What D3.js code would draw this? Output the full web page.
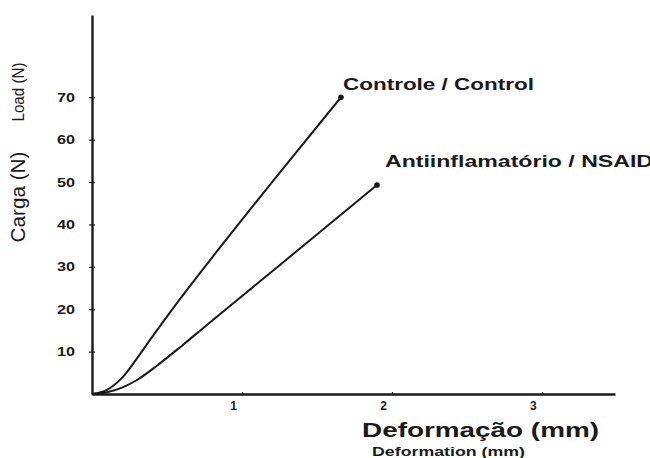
<!DOCTYPE html>
<html>
<head>
<meta charset="utf-8">
<script src="https://cdn.jsdelivr.net/npm/d3@7"></script>
<style>
  html, body { margin: 0; padding: 0; background: #fff; }
  text { font-family: "Liberation Sans", Arial, sans-serif; fill: #1a1a1a; }
</style>
</head>
<body>
<div id="chart"></div>
<script>
// valores (mm, N)
const controleX = [0, 0.1, 0.2, 0.3, 0.4, 0.54, 0.83, 1.21, 1.66];
const controleY = [0, 1.0, 3.8, 8.4, 13.4, 20.2, 33.5, 50.4, 70];
const nsaidX = [0, 0.1, 0.2, 0.3, 0.43, 0.6, 0.77, 1.1, 1.54, 1.9];
const nsaidY = [0, 0.4, 1.5, 3.3, 6.6, 11.4, 16.4, 26, 38.8, 49.3];
const seriesNames = ['Controle / Control', 'Antiinflamatório / NSAID'];
const xTicks = [1, 2, 3];
const yTicks = [10, 20, 30, 40, 50, 60, 70];

const width = 650;
const height = 458;
const ink = '#1a1a1a';

const svg = d3.select('#chart')
    .append('svg')
    .attr('width', width)
    .attr('height', height);

const x = d3.scaleLinear().domain([0, 3.487]).range([92, 615]);
const y = d3.scaleLinear().domain([0, 89.4]).range([394, 15]);

// eixo Y
const yAxis = svg.append('g')
    .attr('transform', `translate(${x(0)},0)`)
    .call(d3.axisLeft(y).tickValues(yTicks).tickSize(3).tickSizeOuter(0).tickPadding(14));
yAxis.select('.domain').attr('stroke', ink).attr('stroke-width', 2.4);
yAxis.selectAll('.tick line').attr('stroke', ink).attr('x2', 3).attr('x1', -3).attr('stroke-width', 1.2);
yAxis.selectAll('.tick text')
    .attr('fill', ink)
    .attr('font-size', 12.5)
    .attr('font-weight', 'bold')
    .attr('font-family', '"Liberation Sans", Arial, sans-serif')
    .attr('textLength', 18)
    .attr('lengthAdjust', 'spacingAndGlyphs');

// eixo X
const xAxis = svg.append('g')
    .attr('transform', `translate(0,${y(0)})`)
    .call(d3.axisBottom(x).tickValues(xTicks).tickFormat(d3.format('d'))
        .tickSize(3).tickSizeOuter(0).tickPadding(4));
xAxis.select('.domain').attr('stroke', ink).attr('stroke-width', 2.4);
xAxis.selectAll('.tick line').attr('stroke', ink).attr('y1', -2).attr('y2', 1).attr('stroke-width', 1.2);
xAxis.selectAll('.tick text')
    .attr('fill', ink)
    .attr('dx', -9)
    .attr('font-size', 12)
    .attr('font-weight', 'bold')
    .attr('font-family', '"Liberation Sans", Arial, sans-serif');

// curvas
const line = d3.line()
    .x(d => x(d[0]))
    .y(d => y(d[1]))
    .curve(d3.curveMonotoneX);

const series = [
    { name: seriesNames[0], pts: controleX.map((v, i) => [v, controleY[i]]) },
    { name: seriesNames[1], pts: nsaidX.map((v, i) => [v, nsaidY[i]]) }
];

svg.append('g')
    .selectAll('path')
    .data(series)
    .enter()
    .append('path')
    .attr('d', d => line(d.pts))
    .attr('fill', 'none')
    .attr('stroke', ink)
    .attr('stroke-width', 2);

svg.append('g')
    .selectAll('circle')
    .data(series)
    .enter()
    .append('circle')
    .attr('cx', d => x(d.pts[d.pts.length - 1][0]))
    .attr('cy', d => y(d.pts[d.pts.length - 1][1]))
    .attr('r', 2.8)
    .attr('fill', ink);

// rótulos das curvas
const labelPos = [
    { dx: 2, dy: -7, len: 191, size: 16.5 },
    { dx: 8, dy: -18, len: 268, size: 16.5 }
];
svg.append('g')
    .selectAll('text')
    .data(series)
    .enter()
    .append('text')
    .attr('x', (d, i) => x(d.pts[d.pts.length - 1][0]) + labelPos[i].dx)
    .attr('y', (d, i) => y(d.pts[d.pts.length - 1][1]) + labelPos[i].dy)
    .attr('font-size', (d, i) => labelPos[i].size)
    .attr('font-weight', 'bold')
    .attr('textLength', (d, i) => labelPos[i].len)
    .attr('lengthAdjust', 'spacingAndGlyphs')
    .text(d => d.name);

// títulos dos eixos
svg.append('text')
    .attr('transform', 'translate(25,197) rotate(-90)')
    .attr('text-anchor', 'middle')
    .attr('font-size', 19.5)
    .attr('textLength', 91)
    .attr('lengthAdjust', 'spacingAndGlyphs')
    .text('Carga (N)');

svg.append('text')
    .attr('transform', 'translate(24,92) rotate(-90)')
    .attr('text-anchor', 'middle')
    .attr('font-size', 16)
    .attr('textLength', 59)
    .attr('lengthAdjust', 'spacingAndGlyphs')
    .text('Load (N)');

svg.append('text')
    .attr('x', 362)
    .attr('y', 437)
    .attr('font-size', 19.5)
    .attr('font-weight', 'bold')
    .attr('textLength', 237)
    .attr('lengthAdjust', 'spacingAndGlyphs')
    .text('Deformação (mm)');

svg.append('text')
    .attr('x', 372)
    .attr('y', 456)
    .attr('font-size', 13)
    .attr('font-weight', 'bold')
    .attr('textLength', 153)
    .attr('lengthAdjust', 'spacingAndGlyphs')
    .text('Deformation (mm)');
</script>
</body>
</html>
